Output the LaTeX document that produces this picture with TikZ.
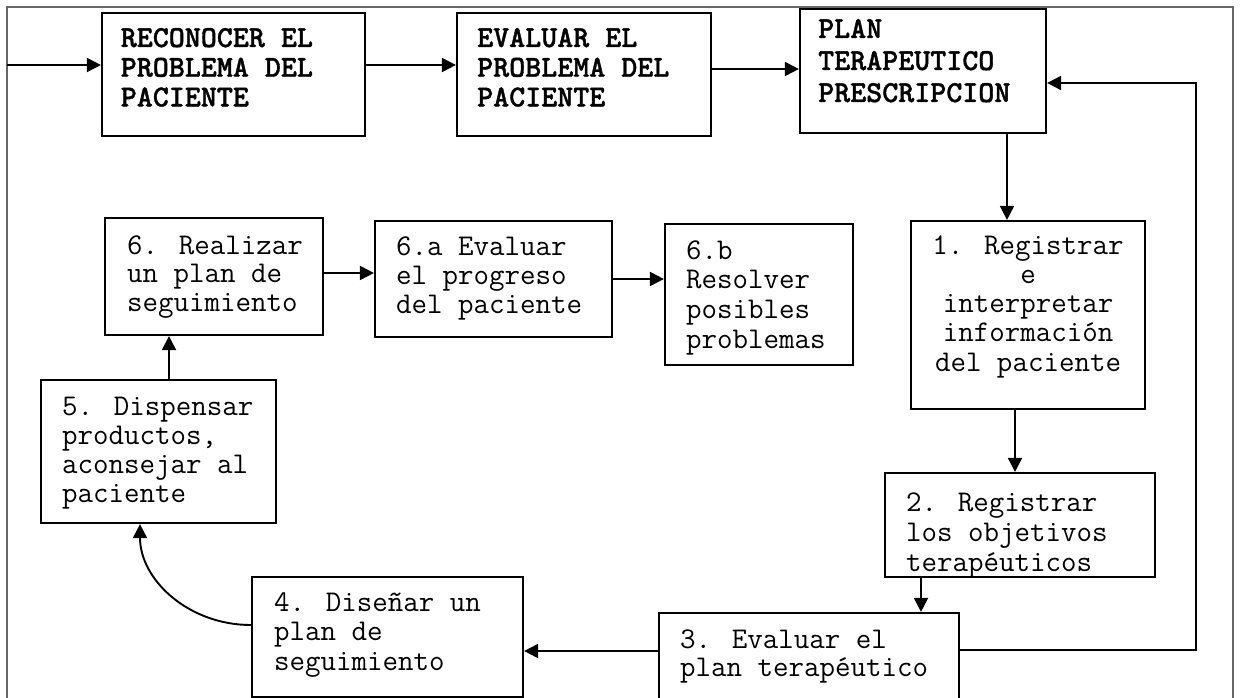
\documentclass[tikz,border=0pt]{standalone}
\usepackage{fontspec}
\newfontfamily\bmono{lmmonolt10-bold.otf}[FakeBold=1.2]
\usetikzlibrary{arrows.meta}
\newcommand\Lns[2]{\begin{tabular}[t]{@{}#1@{}}#2\end{tabular}}
\tikzset{
  box/.style={draw, line width=2.2pt, inner sep=0pt},
  txt/.style={anchor=base west, inner sep=0pt, font=\ttfamily\fontsize{30.1}{#1}\selectfont},
  btxt/.style={anchor=base west, inner sep=0pt, font=\bmono\fontsize{30.5}{#1}\selectfont},
  arr/.style={line width=1.9pt, -{Triangle[length=14pt,width=14pt]}},
  frame/.style={draw=black!60, line width=1.4pt}
}
\begin{document}
\begin{tikzpicture}[x=1pt,y=-1pt]
\useasboundingbox (0,0) rectangle (1241,698);
\draw[frame] (7,7) rectangle (1233,740);

% texts
\node[btxt=29.7] (tR) at (120.6,47) {\Lns{l}{RECONOCER EL\\PROBLEMA DEL\\PACIENTE}};
\node[btxt=29.7] (tE) at (477,47) {\Lns{l}{EVALUAR EL\\PROBLEMA DEL\\PACIENTE}};
\node[btxt=32] (tP) at (818,38) {\Lns{l}{PLAN\\TERAPEUTICO\\PRESCRIPCION}};
\node[txt=29.3, anchor=base] (t1) at (1028,254) {\Lns{c}{1. Registrar\\e\\interpretar\\información\\del paciente}};
\node[txt=30] (t2) at (906,511) {\Lns{l}{2. Registrar\\los objetivos\\terapéuticos}};
\node[txt=28] (t3) at (680,648) {\Lns{l}{3. Evaluar el\\plan terapéutico}};
\node[txt=29.5] (t4) at (274,611) {\Lns{l}{4. Diseñar un\\plan de\\seguimiento}};
\node[txt=29.3] (t5) at (62,415) {\Lns{l}{5. Dispensar\\productos,\\aconsejar al\\paciente}};
\node[txt=28.5] (t6) at (127,254) {\Lns{l}{6. Realizar\\un plan de\\seguimiento}};
\node[txt=29] (t6a) at (396,255) {\Lns{l}{6.a Evaluar\\el progreso\\del paciente}};
\node[txt=29.7] (t6b) at (686,259) {\Lns{l}{6.b\\Resolver\\posibles\\problemas}};

% boxes
\node[box, minimum width=263pt, minimum height=123pt] (bR) at (233.5,74.5) {};
\node[box, minimum width=254pt, minimum height=123pt] (bE) at (584,74.5) {};
\node[box, minimum width=246pt, minimum height=124pt] (bP) at (923,71) {};
\node[box, minimum width=234pt, minimum height=188pt] (b1) at (1028,315) {};
\node[box, minimum width=270pt, minimum height=104pt] (b2) at (1020,525) {};
\node[box, minimum width=300pt, minimum height=137pt] (b3) at (809,681.5) {};
\node[box, minimum width=271pt, minimum height=120pt] (b4) at (387.5,637) {};
\node[box, minimum width=235pt, minimum height=143pt] (b5) at (158.5,451.5) {};
\node[box, minimum width=218pt, minimum height=117pt] (b6) at (214,276.5) {};
\node[box, minimum width=237pt, minimum height=116pt] (b6a) at (493.5,279) {};
\node[box, minimum width=188pt, minimum height=141pt] (b6b) at (759,294.5) {};

% connectors
\coordinate (inL) at (7,65);
\draw[arr] (inL) -- (inL -| bR.west);
\draw[arr] (inL -| bR.east) -- (inL -| bE.west);
\coordinate (yEP) at (0,69);
\draw[arr] (yEP -| bE.east) -- (yEP -| bP.west);
\coordinate (xP1) at (1007,0);
\draw[arr] (xP1 |- bP.south) -- (xP1 |- b1.north);
\coordinate (x12) at (1015,0);
\draw[arr] (x12 |- b1.south) -- (x12 |- b2.north);
\coordinate (x23) at (921,0);
\draw[arr] (x23 |- b2.south) -- (x23 |- b3.north);
\coordinate (ret) at (1196,83);
\coordinate (y3) at (0,650);
\draw[arr] (y3 -| b3.east) -| (ret) -- (ret -| bP.east);
\coordinate (y34) at (0,651);
\draw[arr] (y34 -| b3.west) -- (y34 -| b4.east);
\coordinate (y45) at (0,625);
\coordinate (x45) at (140,0);
\draw[arr] (y45 -| b4.west) .. controls +(-62pt,0pt) and +(0pt,-56pt) .. (x45 |- b5.south);
\coordinate (x56) at (169,0);
\draw[arr] (x56 |- b5.north) -- (x56 |- b6.south);
\coordinate (y66a) at (0,273);
\draw[arr] (y66a -| b6.east) -- (y66a -| b6a.west);
\coordinate (y6ab) at (0,279);
\draw[arr] (y6ab -| b6a.east) -- (y6ab -| b6b.west);
\end{tikzpicture}
\end{document}
